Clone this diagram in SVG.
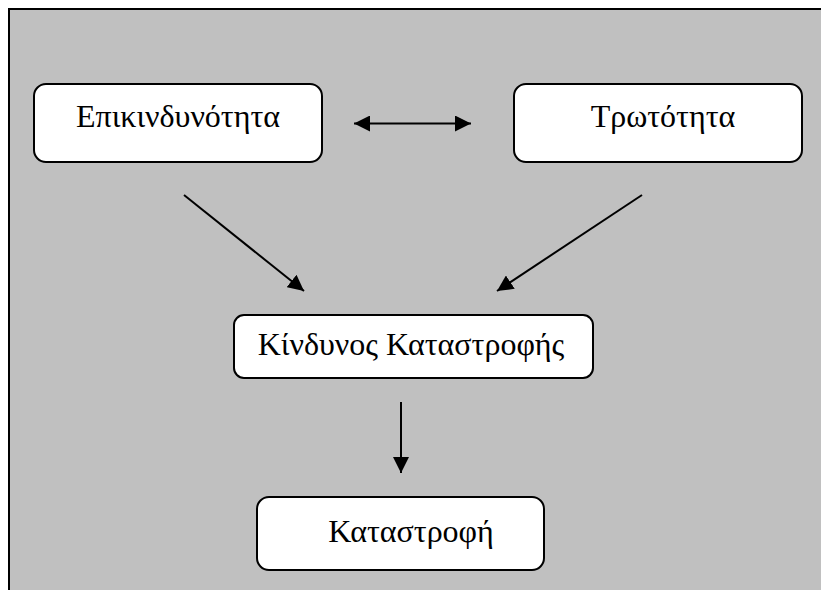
<svg xmlns="http://www.w3.org/2000/svg" width="821" height="590" viewBox="0 0 821 590">
<style>
.node rect{fill:#ffffff;stroke:#000000;stroke-width:2}
.node text{font-family:"Liberation Serif","Times New Roman",serif;font-size:32px;fill:#000000;text-anchor:middle}
.edges line{stroke:#000000;stroke-width:2}
</style>
<defs>
<marker id="ah" markerWidth="16" markerHeight="16" viewBox="0 0 16 16" refX="16" refY="8" orient="auto-start-reverse" markerUnits="userSpaceOnUse">
<path d="M0,0 L16,8 L0,16 Z" fill="#000000"/>
</marker>
</defs>
<rect x="9" y="9" width="830" height="600" fill="#c0c0c0" stroke="#000000" stroke-width="2"/>
<g id="n1" class="node">
<rect x="34" y="84" width="288" height="78" rx="12"/>
<text x="178" y="127">Επικινδυνότητα</text>
</g>
<g id="n2" class="node">
<rect x="514" y="84" width="288" height="78" rx="12"/>
<text x="663" y="127">Τρωτότητα</text>
</g>
<g id="n3" class="node">
<rect x="234" y="315" width="359" height="63" rx="10"/>
<text x="411" y="355">Κίνδυνος Καταστροφής</text>
</g>
<g id="n4" class="node">
<rect x="257" y="497" width="287" height="73" rx="12"/>
<text x="411" y="542">Καταστροφή</text>
</g>
<g id="edges" class="edges">
<line x1="354" y1="123.5" x2="471" y2="123.5" marker-start="url(#ah)" marker-end="url(#ah)"/>
<line x1="184" y1="195" x2="304" y2="291" marker-end="url(#ah)"/>
<line x1="642" y1="195" x2="497" y2="291" marker-end="url(#ah)"/>
<line x1="401" y1="402" x2="401" y2="473" marker-end="url(#ah)"/>
</g>
</svg>
